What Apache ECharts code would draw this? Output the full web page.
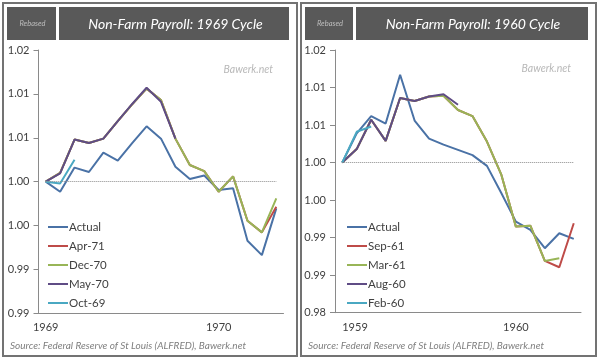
<!DOCTYPE html>
<html><head><meta charset="utf-8">
<script src="https://cdn.jsdelivr.net/npm/echarts@6/dist/echarts.min.js"></script>
<style>html,body{margin:0;padding:0;background:#fff}#c{width:600px;height:361px}</style>
</head><body><div id="c"></div>
<script>
// ---------- data ----------
const leftMonths = ['Jan-69','Feb-69','Mar-69','Apr-69','May-69','Jun-69','Jul-69','Aug-69','Sep-69','Oct-69','Nov-69','Dec-69','Jan-70','Feb-70','Mar-70','Apr-70','May-70'];
const rightMonths = ['Jan-59','Feb-59','Mar-59','Apr-59','May-59','Jun-59','Jul-59','Aug-59','Sep-59','Oct-59','Nov-59','Dec-59','Jan-60','Feb-60','Mar-60','Apr-60','May-60'];

const leftYLabels = ['0.99','0.99','1.00','1.00','1.01','1.01','1.02'];
const rightYLabels = ['0.98','0.99','0.99','1.00','1.00','1.01','1.01','1.02'];

// 1969 cycle
const actual69 = [1.0000,0.99885,1.0016,1.0011,1.0033,1.0024,1.0044,1.0063,1.0049,1.0017,1.0003,1.0007,0.99904,0.99924,0.99326,0.99163,0.99696];
const apr71    = [1.0000,1.0010,1.0048,1.0044,1.0049,1.0069,1.0088,1.0106,1.0093,1.0049,1.0019,1.0012,0.99885,1.0006,0.99554,0.99422,0.99714];
const dec70    = [1.0000,1.0010,1.0048,1.0044,1.0049,1.0069,1.0088,1.0106,1.0093,1.0049,1.0019,1.0012,0.99885,1.0006,0.99554,0.99422,0.9981];
const may70    = [1.0000,1.00095,1.0048,1.0044,1.0049,1.0069,1.00885,1.0107,1.0091,1.0049];
const oct69    = [1.0000,0.9998,1.0025];

// 1960 cycle
const actual60 = [1.0000,1.0039,1.0062,1.0052,1.0117,1.0056,1.0032,1.0024,1.0017,1.0010,0.99956,0.99592,0.99214,0.99103,0.98859,0.99059,0.98983];
const sep61    = [1.0000,1.0018,1.0057,1.0029,1.0086,1.0082,1.0088,1.0089,1.0070,1.0062,1.0028,0.99836,0.99147,0.9916,0.9869,0.98606,0.99192];
const mar61    = [1.0000,1.0018,1.0057,1.0029,1.0086,1.0082,1.0088,1.0089,1.0070,1.0062,1.0028,0.99836,0.99147,0.9916,0.9869,0.98726];
const aug60    = [1.0000,1.0018,1.0057,1.0029,1.0086,1.0082,1.0088,1.0091,1.0077];
const feb60    = [1.0000,1.0041,1.0048];

const leftNames = ['Actual','Apr-71','Dec-70','May-70','Oct-69'];
const rightNames = ['Actual','Sep-61','Mar-61','Aug-60','Feb-60'];

// ---------- style ----------
const FONT = 'Lato';
const colors = ['#4a72a6','#be4b48','#98b557','#5f4c85','#4aa8c2'];
const axisGray = '#8a8a8a';
const textGray = '#404040';

function series(name, data, idx, ci) {
  return {
    type: 'line', name: name, data: data, xAxisIndex: idx, yAxisIndex: idx,
    symbol: 'none', showSymbol: false, animation: false,
    lineStyle: { width: 2, color: colors[ci] }, itemStyle: { color: colors[ci] }
  };
}
function baseLine(s, last) {
  s.markLine = {
    silent: true, symbol: 'none', animation: false, label: { show: false },
    lineStyle: { type: 'dotted', color: '#8c8c8c', width: 1 },
    data: [[{ coord: [0, 1] }, { coord: [last, 1] }]]
  };
  return s;
}
function xAxis(idx, cats, extraLabel) {
  return {
    type: 'category', gridIndex: idx, data: cats, boundaryGap: true,
    axisLine: { lineStyle: { color: axisGray, width: 1 } },
    axisTick: { interval: 11, length: 5, lineStyle: { color: axisGray } },
    axisLabel: Object.assign({ interval: 11, margin: 9, color: textGray, fontSize: 11, fontFamily: FONT,
      formatter: v => '19' + v.slice(-2) }, extraLabel || {}),
    splitLine: { show: false }
  };
}
function yAxis(idx, min, max, labels) {
  return {
    type: 'value', gridIndex: idx, min: min, max: max, interval: 0.005,
    axisLine: { show: true, lineStyle: { color: axisGray, width: 1 } },
    axisTick: { show: true, length: 5, lineStyle: { color: axisGray } },
    splitLine: { show: false },
    axisLabel: { margin: 9, color: textGray, fontSize: 11, fontFamily: FONT,
      formatter: v => labels[Math.round((v - min) / 0.005)] }
  };
}
function legend(names, left) {
  return { data: names, orient: 'vertical', left: left, top: 216, icon: 'rect',
    itemWidth: 20, itemHeight: 2, itemGap: 7, selectedMode: false,
    textStyle: { fontSize: 11.5, lineHeight: 12, color: textGray, fontFamily: FONT, padding: [0, 0, 0, -4] } };
}
function panel(x, w, title, rbW, ttlX) {
  return [
    { type: 'rect', shape: { x: x, y: 3, width: w, height: 353 }, style: { fill: '#fff', stroke: '#737373', lineWidth: 2 }, z: -10 },
    { type: 'rect', shape: { x: x + 4, y: 7, width: rbW, height: 33 }, style: { fill: '#595959' } },
    { type: 'rect', shape: { x: x + 4 + rbW + 3, y: 7, width: w - rbW - 15, height: 33 }, style: { fill: '#595959' } },
    { type: 'text', x: x + 4 + rbW / 2 + 1, y: 24, style: { text: 'Rebased', fill: '#bdbdbd', fontSize: 7.5, fontStyle: 'italic', fontFamily: FONT, align: 'center', verticalAlign: 'middle' } },
    { type: 'text', x: ttlX, y: 24, style: { text: title, fill: '#ffffff', fontSize: 14, fontStyle: 'italic', fontFamily: FONT, align: 'center', verticalAlign: 'middle' } },
    { type: 'text', x: x + 7, y: 346, style: { text: 'Source: Federal Reserve of St Louis (ALFRED), Bawerk.net', fill: '#7f7f7f', fontSize: 10, fontStyle: 'italic', fontFamily: FONT, align: 'left', verticalAlign: 'middle' } }
  ];
}

const chart = echarts.init(document.getElementById('c'), null, { renderer: 'canvas' });
chart.setOption({
  animation: false,
  backgroundColor: '#ffffff',
  textStyle: { fontFamily: FONT },
  grid: [
    { left: 38.5, top: 50, width: 245, height: 263.3 },
    { left: 335, top: 50, width: 246, height: 262.7 }
  ],
  xAxis: [ xAxis(0, leftMonths), xAxis(1, rightMonths, { alignMinLabel: 'left' }) ],
  yAxis: [ yAxis(0, 0.985, 1.015, leftYLabels), yAxis(1, 0.98, 1.015, rightYLabels) ],
  legend: [ legend(leftNames, 43), legend(rightNames, 342) ],
  graphic: [].concat(
    panel(3, 294, 'Non-Farm Payroll: 1969 Cycle', 49, 175.5),
    panel(301, 295, 'Non-Farm Payroll: 1960 Cycle', 48, 473),
    [
      { type: 'text', x: 273, y: 70, style: { text: 'Bawerk.net', fill: '#b8b8b8', fontSize: 10.5, fontStyle: 'italic', fontFamily: FONT, align: 'right', verticalAlign: 'middle' } },
      { type: 'text', x: 571, y: 69, style: { text: 'Bawerk.net', fill: '#b8b8b8', fontSize: 10.5, fontStyle: 'italic', fontFamily: FONT, align: 'right', verticalAlign: 'middle' } }
    ]
  ),
  series: [
    baseLine(series('Actual', actual69, 0, 0), 16),
    series('Apr-71', apr71, 0, 1),
    series('Dec-70', dec70, 0, 2),
    series('May-70', may70, 0, 3),
    series('Oct-69', oct69, 0, 4),
    baseLine(series('Actual', actual60, 1, 0), 16),
    series('Sep-61', sep61, 1, 1),
    series('Mar-61', mar61, 1, 2),
    series('Aug-60', aug60, 1, 3),
    series('Feb-60', feb60, 1, 4)
  ]
});
</script>
</body></html>
